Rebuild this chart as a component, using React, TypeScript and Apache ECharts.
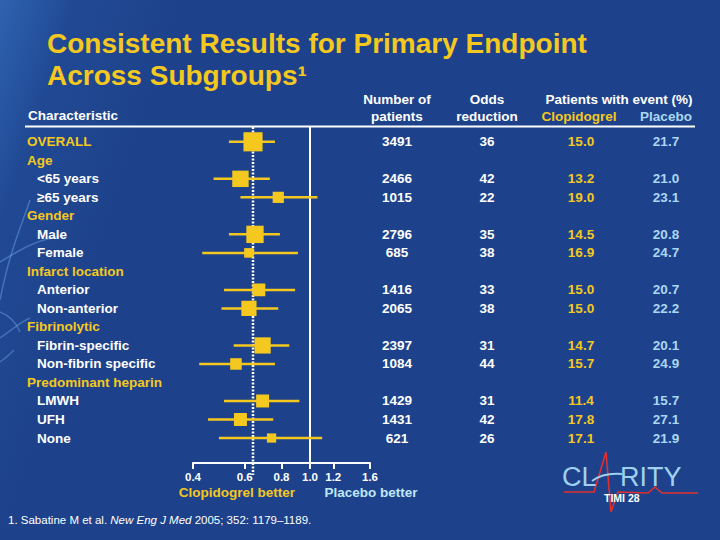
import React, { useEffect, useRef } from "react";
import * as echarts from "echarts";

// ---------- data ----------
const rowLabels = [
  "OVERALL", "Age", "<65 years", "≥65 years", "Gender", "Male", "Female",
  "Infarct location", "Anterior", "Non-anterior", "Fibrinolytic",
  "Fibrin-specific", "Non-fibrin specific", "Predominant heparin",
  "LMWH", "UFH", "None",
];
const rowIsHeader = [true, true, false, false, true, false, false, true, false, false, true, false, false, true, false, false, false];
const patients = [3491, null, 2466, 1015, null, 2796, 685, null, 1416, 2065, null, 2397, 1084, null, 1429, 1431, 621];
const oddsReduction = [36, null, 42, 22, null, 35, 38, null, 33, 38, null, 31, 44, null, 31, 42, 26];
const oddsRatio = [0.64, null, 0.58, 0.78, null, 0.65, 0.62, null, 0.67, 0.62, null, 0.69, 0.56, null, 0.69, 0.58, 0.74];
const ciLow = [0.53, null, 0.47, 0.58, null, 0.53, 0.43, null, 0.51, 0.50, null, 0.55, 0.42, null, 0.51, 0.45, 0.49];
const ciHigh = [0.76, null, 0.73, 1.06, null, 0.79, 0.91, null, 0.89, 0.78, null, 0.85, 0.76, null, 0.92, 0.75, 1.10];
const clopidogrelEvent = [15.0, null, 13.2, 19.0, null, 14.5, 16.9, null, 15.0, 15.0, null, 14.7, 15.7, null, 11.4, 17.8, 17.1];
const placeboEvent = [21.7, null, 21.0, 23.1, null, 20.8, 24.7, null, 20.7, 22.2, null, 20.1, 24.9, null, 15.7, 27.1, 21.9];
const axisTickValues = [0.4, 0.6, 0.8, 1.0, 1.2, 1.6];
const axisMin = 0.4;
const axisMax = 1.6;
const overallOddsRatio = 0.64;
const noEffect = 1.0;

// ---------- style ----------
const FONT = "'Liberation Sans', Arial, sans-serif";
const YELLOW = "#f4c81f";
const WHITE = "#ffffff";
const LIGHTBLUE = "#abd7f3";
const BG = "#1d428b";

const COL_N = 397;
const COL_OR = 487;
const COL_CLOP = 581;
const COL_PLAC = 666;

export default function App() {
  const ref = useRef<HTMLDivElement>(null);

  useEffect(() => {
    document.body.style.margin = "0";
    const chart = echarts.init(ref.current!, null, { renderer: "svg" });

    const forestData: any[] = [];
    rowLabels.forEach((_, i) => {
      if (oddsRatio[i] != null) {
        const n = patients[i] as number;
        forestData.push([
          Math.log(ciLow[i] as number),
          Math.log(ciHigh[i] as number),
          Math.log(oddsRatio[i] as number),
          i,
          2 + 0.29 * Math.sqrt(n),
        ]);
      }
    });

    const tableData = rowLabels.map((_, i) => [Math.log(axisMin), i]);

    const txt = (text: string, x: number, y: number, fill: string, align: string, size = 13.5, weight: any = "bold") => ({
      type: "text",
      silent: true,
      style: {
        text, x, y, fill,
        fontSize: size, fontWeight: weight, fontFamily: FONT,
        align, textAlign: align,
        verticalAlign: "middle", textVerticalAlign: "middle",
      },
    });

    const swirl = "rgba(120,180,245,0.40)";

    const option: any = {
      animation: false,
      backgroundColor: BG,
      title: {
        text: "Consistent Results for Primary Endpoint\nAcross Subgroups¹",
        left: 42,
        top: 22,
        textStyle: { color: YELLOW, fontSize: 28, lineHeight: 32, fontWeight: "bold", fontFamily: FONT },
      },
      grid: { left: 193, right: 720 - 370, top: 127, bottom: 540 - 463 },
      xAxis: {
        type: "value",
        min: Math.log(axisMin),
        max: Math.log(axisMax),
        splitLine: { show: false },
        axisLine: { show: true, onZero: false, lineStyle: { color: WHITE, width: 2 } },
        axisTick: { show: true, length: 6, lineStyle: { color: WHITE, width: 2 }, customValues: axisTickValues.map(Math.log) },
        axisLabel: {
          customValues: axisTickValues.map(Math.log),
          formatter: (v: number) => Math.exp(v).toFixed(1),
          color: WHITE, fontSize: 11.5, fontWeight: "bold", fontFamily: FONT, margin: 8,
        },
      },
      yAxis: {
        type: "value",
        inverse: true,
        min: -0.8,
        max: 17.35,
        show: false,
        splitLine: { show: false },
      },
      series: [
        {
          type: "custom",
          name: "no effect",
          z: 1,
          data: [[Math.log(noEffect), 0]],
          clip: false,
          silent: true,
          renderItem: (params: any, api: any) => {
            const p = api.coord([api.value(0), 0]);
            const cs = params.coordSys;
            return {
              type: "line",
              shape: { x1: p[0], y1: cs.y, x2: p[0], y2: cs.y + cs.height },
              style: { stroke: WHITE, lineWidth: 2 },
            };
          },
        },
        {
          type: "custom",
          name: "overall",
          z: 2,
          data: [[Math.log(overallOddsRatio), 0]],
          clip: false,
          silent: true,
          renderItem: (params: any, api: any) => {
            const p = api.coord([api.value(0), 0]);
            const cs = params.coordSys;
            return {
              type: "line",
              shape: { x1: p[0], y1: cs.y, x2: p[0], y2: cs.y + cs.height + 12 },
              style: { stroke: WHITE, lineWidth: 2.5, lineDash: [2, 1.5] },
            };
          },
        },
        {
          type: "custom",
          name: "forest",
          z: 3,
          data: forestData,
          encode: { x: [0, 1, 2], y: 3 },
          clip: false,
          silent: true,
          renderItem: (_params: any, api: any) => {
            const lo = api.coord([api.value(0), api.value(3)]);
            const hi = api.coord([api.value(1), api.value(3)]);
            const c = api.coord([api.value(2), api.value(3)]);
            const s = api.value(4);
            return {
              type: "group",
              children: [
                { type: "line", shape: { x1: lo[0], y1: lo[1], x2: hi[0], y2: hi[1] }, style: { stroke: YELLOW, lineWidth: 2.5 } },
                { type: "rect", shape: { x: c[0] - s / 2, y: c[1] - s / 2, width: s, height: s }, style: { fill: YELLOW } },
              ],
            };
          },
        },
        {
          type: "custom",
          name: "table",
          z: 4,
          data: tableData,
          encode: { x: 0, y: 1 },
          clip: false,
          silent: true,
          renderItem: (params: any, api: any) => {
            const i = params.dataIndex;
            const y = api.coord([api.value(0), api.value(1)])[1];
            const children: any[] = [];
            const header = rowIsHeader[i];
            children.push(txt(rowLabels[i], header ? 27 : 37, y, header ? YELLOW : WHITE, "left"));
            if (patients[i] != null) {
              children.push(txt(String(patients[i]), COL_N, y, WHITE, "center"));
              children.push(txt(String(oddsReduction[i]), COL_OR, y, WHITE, "center"));
              children.push(txt((clopidogrelEvent[i] as number).toFixed(1), COL_CLOP, y, YELLOW, "center"));
              children.push(txt((placeboEvent[i] as number).toFixed(1), COL_PLAC, y, LIGHTBLUE, "center"));
            }
            return { type: "group", children };
          },
        },
      ],
      graphic: [
        {
          type: "rect", z: -10, silent: true,
          shape: { x: 0, y: 0, width: 720, height: 540 },
          style: {
            fill: {
              type: "linear", x: 0, y: 0, x2: 1, y2: 0.25,
              colorStops: [
                { offset: 0, color: "#2e62b1" },
                { offset: 0.1, color: "#214993" },
                { offset: 0.25, color: BG },
                { offset: 1, color: BG },
              ],
            },
          },
        },
        { type: "bezierCurve", z: -9, silent: true, shape: { x1: 0, y1: 262, cpx1: 20, cpy1: 250, cpx2: 35, cpy2: 240, x2: 62, y2: 236 }, style: { stroke: swirl, lineWidth: 1.5, fill: "none" } },
        { type: "bezierCurve", z: -9, silent: true, shape: { x1: 30, y1: 200, cpx1: 20, cpy1: 230, cpx2: 10, cpy2: 250, x2: 0, y2: 300 }, style: { stroke: swirl, lineWidth: 1.5, fill: "none" } },
        { type: "bezierCurve", z: -9, silent: true, shape: { x1: 0, y1: 338, cpx1: 12, cpy1: 330, cpx2: 20, cpy2: 322, x2: 30, y2: 318 }, style: { stroke: swirl, lineWidth: 1.5, fill: "none" } },
        { type: "bezierCurve", z: -9, silent: true, shape: { x1: 0, y1: 312, cpx1: 10, cpy1: 316, cpx2: 16, cpy2: 322, x2: 20, y2: 332 }, style: { stroke: swirl, lineWidth: 1.5, fill: "none" } },
        { type: "bezierCurve", z: -9, silent: true, shape: { x1: 0, y1: 362, cpx1: 6, cpy1: 358, cpx2: 10, cpy2: 354, x2: 14, y2: 350 }, style: { stroke: swirl, lineWidth: 1.5, fill: "none" } },
        // header rule
        { type: "line", silent: true, shape: { x1: 25, y1: 126.5, x2: 695, y2: 126.5 }, style: { stroke: WHITE, lineWidth: 2 } },
        // column headers
        txt("Characteristic", 28, 115, WHITE, "left"),
        txt("Number of", COL_N, 99, WHITE, "center"),
        txt("patients", COL_N, 116, WHITE, "center"),
        txt("Odds", COL_OR, 99, WHITE, "center"),
        txt("reduction", COL_OR, 116, WHITE, "center"),
        txt("Patients with event (%)", 619, 99, WHITE, "center"),
        txt("Clopidogrel", COL_CLOP - 2, 116, YELLOW, "center"),
        txt("Placebo", COL_PLAC, 116, LIGHTBLUE, "center"),
        // axis captions
        txt("Clopidogrel better", 237, 492, YELLOW, "center"),
        txt("Placebo better", 371, 492, "#bfe7f8", "center"),
        // footnote
        {
          type: "text", silent: true,
          style: {
            text: "1. Sabatine M et al. {i|New Eng J Med} 2005; 352: 1179–1189.",
            x: 8, y: 520, fill: WHITE, fontSize: 11.5, fontFamily: FONT,
            align: "left", textAlign: "left", verticalAlign: "middle", textVerticalAlign: "middle",
            rich: { i: { fontStyle: "italic", fill: WHITE, fontSize: 11.5, fontFamily: FONT } },
          },
        },
        // logo
        {
          type: "polyline", silent: true,
          shape: { points: [[564, 492], [594, 492], [606, 452], [611, 512], [618, 492], [648, 493], [655, 487], [662, 493], [698, 493]] },
          style: { stroke: "#e0302f", lineWidth: 1.6, fill: "none" },
        },
        { type: "bezierCurve", silent: true, shape: { x1: 592, y1: 481, cpx1: 600, cpy1: 475, cpx2: 610, cpy2: 473, x2: 622, y2: 474 }, style: { stroke: "#9fd0ee", lineWidth: 2, fill: "none" } },
        txt("CL", 562, 477, "#9fd0ee", "left", 27, "normal"),
        txt("RITY", 620, 477, "#9fd0ee", "left", 27, "normal"),
        txt("TIMI 28", 604, 498, WHITE, "left", 10.5, "bold"),
      ],
    };

    chart.setOption(option);
    return () => chart.dispose();
  }, []);

  return <div ref={ref} style={{ position: "absolute", left: 0, top: 0, width: 720, height: 540 }} />;
}
